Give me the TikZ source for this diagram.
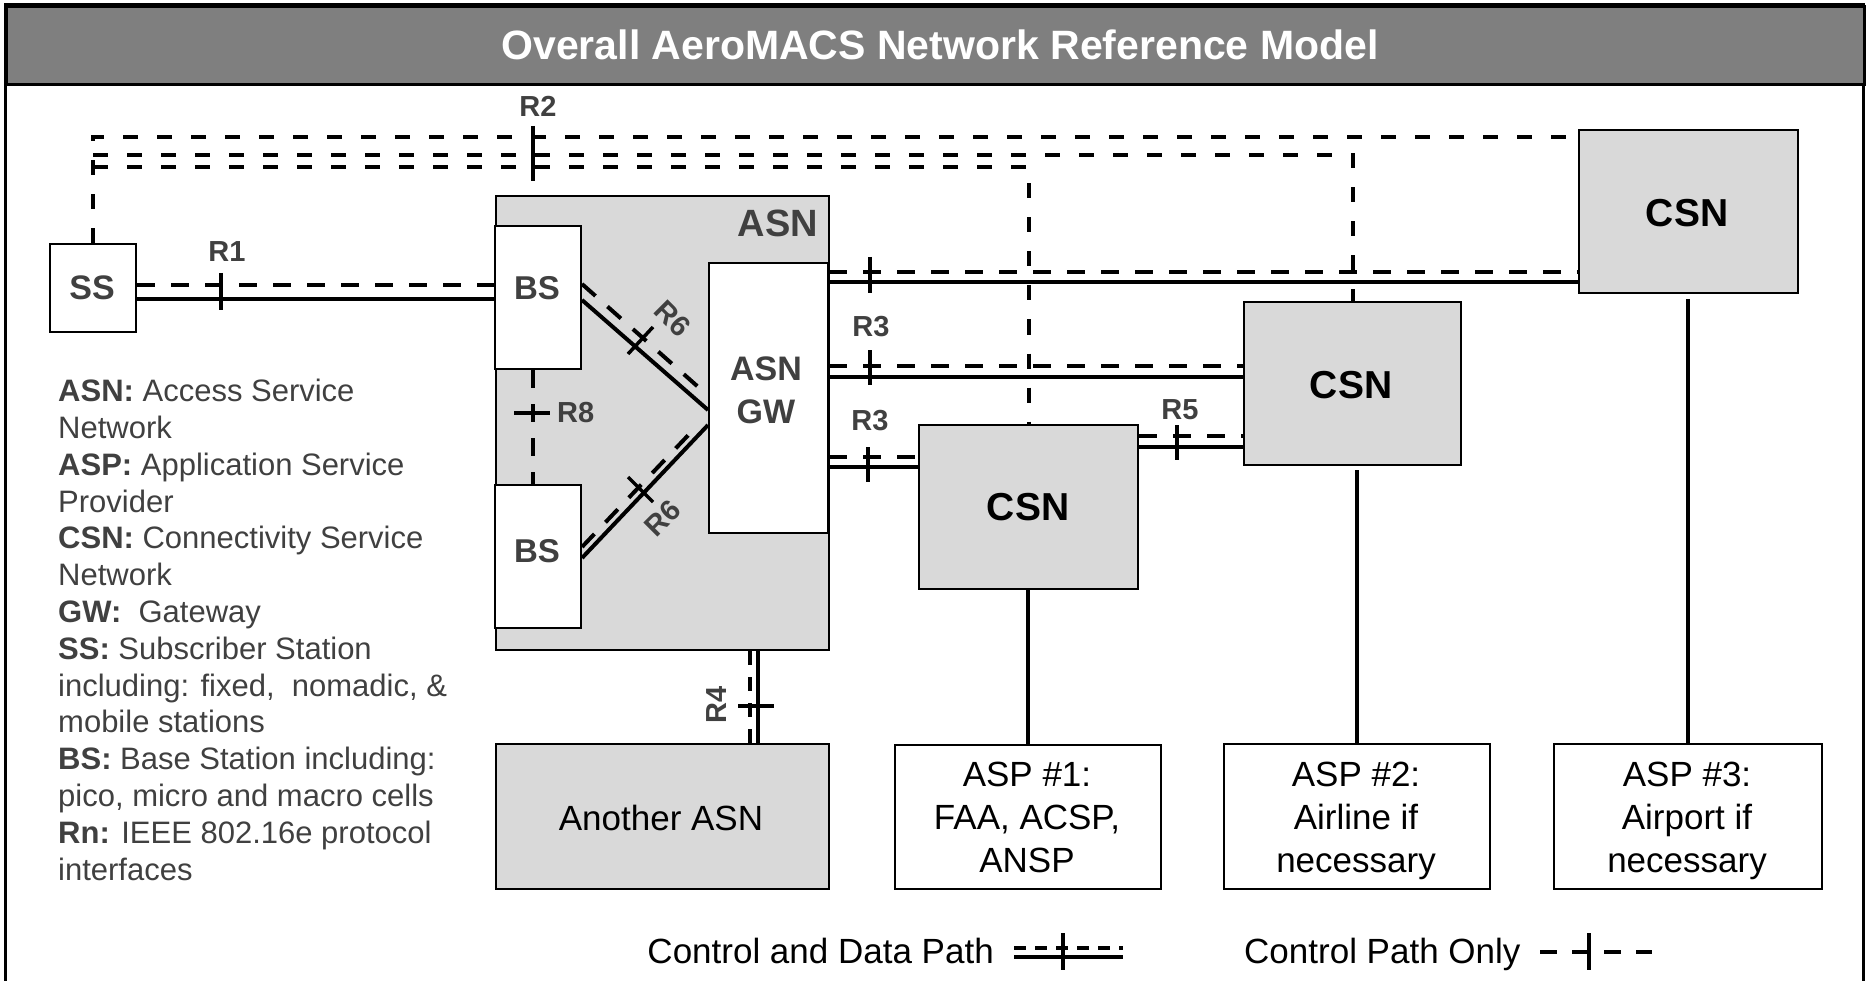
\documentclass[tikz,border=0pt]{standalone}
\usepackage{fontspec}
\setmainfont{Liberation Sans}
\usetikzlibrary{calc}
\definecolor{lbl}{HTML}{404040}
\definecolor{boxgray}{HTML}{D9D9D9}
\definecolor{titlegray}{HTML}{7F7F7F}
\begin{document}
\begin{tikzpicture}[x=1pt,y=-1pt,
  boxbase/.style={draw, line width=2pt, inner sep=0pt, anchor=north west},
  whitebox/.style={boxbase, fill=white},
  graybox/.style={boxbase, fill=boxgray},
  solidln/.style={line width=4pt},
  ctlln/.style={line width=4pt, dash pattern=on 18pt off 16pt},
  topctl/.style={line width=4pt, dash pattern=on 15pt off 19pt},
  rtick/.style={line width=3.5pt},
  rlbl/.style={font=\bfseries\fontsize{29}{32}\selectfont, text=lbl, inner sep=0pt, anchor=base},
  boxlbl/.style={font=\bfseries\fontsize{34}{43}\selectfont, text=lbl, inner sep=0pt, align=center},
  csnlbl/.style={font=\bfseries\fontsize{39}{44}\selectfont, text=black, inner sep=0pt, anchor=base},
  plainlbl/.style={font=\fontsize{35}{43}\selectfont, text=black, inner sep=0pt, align=center}
]
\useasboundingbox (0,0) rectangle (1867,981);
% frame and title
\draw[line width=3pt] (5,995) -- (5,5) -- (1863,5) -- (1863,995);
\node[draw, line width=3pt, fill=titlegray, minimum width=1858pt, minimum height=78pt, inner sep=0pt, anchor=north west] (titlebar) at (5,5) {};
\node[font=\bfseries\fontsize{41}{49}\selectfont, text=white, inner sep=0pt, anchor=base] (titletext) at (940,60) {Overall AeroMACS Network Reference Model};

% boxes
\node[graybox, minimum width=333pt, minimum height=454pt] (ASN) at (495,195) {};
\node[whitebox, minimum width=86pt, minimum height=88pt] (SS) at (49,243) {};
\node[whitebox, minimum width=86pt, minimum height=143pt] (BS1) at (494,225) {};
\node[whitebox, minimum width=86pt, minimum height=143pt] (BS2) at (494,484) {};
\node[whitebox, minimum width=119pt, minimum height=270pt] (GW) at (708,262) {};
\node[graybox, minimum width=219pt, minimum height=164pt] (CSN1) at (918,424) {};
\node[graybox, minimum width=217pt, minimum height=163pt] (CSN2) at (1243,301) {};
\node[graybox, minimum width=219pt, minimum height=163pt] (CSN3) at (1578,129) {};
\node[graybox, minimum width=333pt, minimum height=145pt] (ANASN) at (495,743) {};
\node[whitebox, minimum width=266pt, minimum height=144pt] (ASP1) at (894,744) {};
\node[whitebox, minimum width=266pt, minimum height=145pt] (ASP2) at (1223,743) {};
\node[whitebox, minimum width=268pt, minimum height=145pt] (ASP3) at (1553,743) {};

% R1
\draw[ctlln] (SS.east |- 0,285) -- (BS1.west |- 0,285);
\draw[solidln] (SS.east |- 0,299) -- (BS1.west |- 0,299);
\draw[rtick] (221,273) -- (221,310);
\node[rlbl] (R1) at (227,262) {R1};

% top control lines (R2)
\draw[topctl] (SS.north) |- (CSN3.west |- 0,137);
\draw[topctl] (SS.north |- 0,155) -| (CSN2.north);
\draw[topctl] (SS.north |- 0,167) -| (CSN1.north);
\draw[rtick] (533,126) -- (533,181);
\node[rlbl] (R2) at (538,117) {R2};

% R6
\coordinate (r6a) at (705,393);
\coordinate (r6b) at (696,427);
\draw[solidln] (BS1.east |- 0,300) -- (GW.west |- 0,410);
\draw[ctlln] (BS1.east |- 0,284) -- (r6a);
\draw[rtick] (628,354) -- (653,327);
\node[rlbl, anchor=center, rotate=-45] (R6a) at (673,319) {R6};
\draw[solidln] (BS2.east |- 0,558) -- (GW.west |- 0,425);
\draw[ctlln] (BS2.east |- 0,547) -- (r6b);
\draw[rtick] (628,477) -- (653,502);
\node[rlbl, anchor=center, rotate=45] (R6b) at (663,518) {R6};

% R8
\draw[ctlln] ([xshift=-5pt]BS1.south) -- ([xshift=-5pt]BS2.north);
\draw[rtick] (514,413) -- (550,413);
\node[rlbl, anchor=base west] (R8) at (557,422) {R8};

% R3
\draw[ctlln] (GW.east |- 0,272) -- (CSN3.west |- 0,272);
\draw[solidln] (GW.east |- 0,282) -- (CSN3.west |- 0,282);
\draw[rtick] (870,257) -- (870,293);
\draw[ctlln] (GW.east |- 0,366) -- (CSN2.west |- 0,366);
\draw[solidln] (GW.east |- 0,377) -- (CSN2.west |- 0,377);
\draw[rtick] (870,350) -- (870,385);
\node[rlbl] (R3a) at (871,337) {R3};
\draw[ctlln] (GW.east |- 0,457) -- (CSN1.west |- 0,457);
\draw[solidln] (GW.east |- 0,467) -- (CSN1.west |- 0,467);
\draw[rtick] (868,447) -- (868,482);
\node[rlbl] (R3b) at (870,430) {R3};

% R5
\draw[ctlln] (CSN1.east |- 0,436) -- (CSN2.west |- 0,436);
\draw[solidln] (CSN1.east |- 0,447) -- (CSN2.west |- 0,447);
\draw[rtick] (1177,425) -- (1177,460);
\node[rlbl] (R5) at (1180,419) {R5};

% R4
\draw[line width=4pt, dash pattern=on 14pt off 12pt] (ASN.south -| 750,0) -- (ANASN.north -| 750,0);
\draw[solidln] (ASN.south -| 758,0) -- (ANASN.north -| 758,0);
\draw[rtick] (738,706) -- (774,706);
\node[rlbl, anchor=center, rotate=90] (R4) at (717,705) {R4};

% CSN to ASP
\draw[solidln] (CSN1.south) -- (ASP1.north |- CSN1.south) -- (ASP1.north);
\draw[solidln, shorten <=4pt] (ASP2.north |- CSN2.south) -- (ASP2.north);
\draw[solidln, shorten <=5pt] (ASP3.north |- CSN3.south) -- (ASP3.north);

% box labels
\node[boxlbl, font=\bfseries\fontsize{38}{44}\selectfont, anchor=base east] (ASNl) at (818,237) {ASN};
\node[boxlbl, anchor=base] (SSl) at (92,300) {SS};
\node[boxlbl, font=\bfseries\fontsize{33}{40}\selectfont, anchor=base] (BS1l) at (537,300) {BS};
\node[boxlbl, font=\bfseries\fontsize{33}{40}\selectfont, anchor=base] (BS2l) at (537,562) {BS};
\node[boxlbl, anchor=north] (GWl) at (766,357) {ASN\\GW};
\node[csnlbl] (CSN1l) at (1028,520) {CSN};
\node[csnlbl] (CSN2l) at (1351,398) {CSN};
\node[csnlbl] (CSN3l) at (1687,227) {CSN};
\node[plainlbl, anchor=base] (ANASNl) at (661,830) {Another ASN};
\node[plainlbl, anchor=north] (ASP1l) at (1027,762) {ASP \#1:\\FAA, ACSP,\\ANSP};
\node[plainlbl, anchor=north] (ASP2l) at (1356,762) {ASP \#2:\\Airline if\\necessary};
\node[plainlbl, anchor=north] (ASP3l) at (1687,762) {ASP \#3:\\Airport if\\necessary};

% left legend
\node[anchor=north west, align=left, inner sep=0pt, text=lbl, font=\fontsize{31}{36.8}\selectfont] (defs) at (58,379)
{\textbf{ASN:} Access Service\\
Network\\
\textbf{ASP:} Application Service\\
Provider\\
\textbf{CSN:} Connectivity Service\\
Network\\
\textbf{GW:}\ \ Gateway\\
\textbf{SS:} Subscriber Station\\
including: fixed,\ \ nomadic, \&\\
mobile stations\\
\textbf{BS:} Base Station including:\\
pico, micro and macro cells\\
\textbf{Rn:} IEEE 802.16e protocol\\
interfaces};

% bottom legend
\node[plainlbl, anchor=base east] (leg1) at (994,963) {Control and Data Path};
\draw[line width=4pt, dash pattern=on 12pt off 9pt] (1014,948) -- (1123,948);
\draw[solidln] (1014,957) -- (1123,957);
\draw[rtick] (1063,933) -- (1063,970);
\node[plainlbl, anchor=base west] (leg2) at (1244,963) {Control Path Only};
\draw[line width=4pt, dash pattern=on 17pt off 15pt] (1540,952) -- (1652,952);
\draw[rtick] (1589,933) -- (1589,970);
\end{tikzpicture}
\end{document}
